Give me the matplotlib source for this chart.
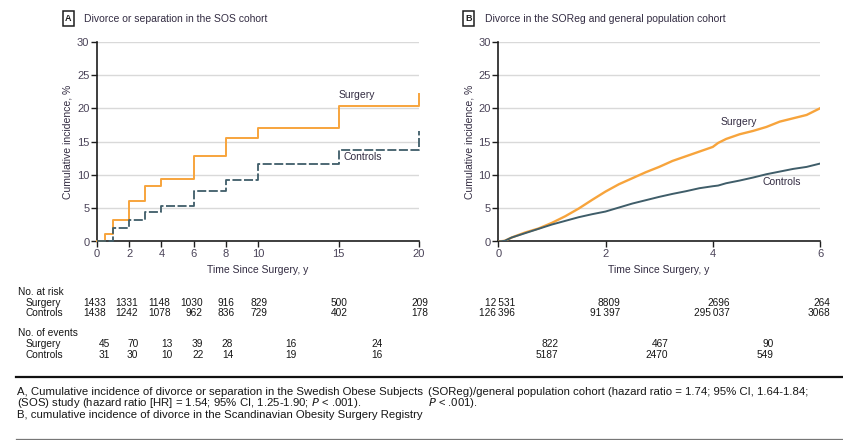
import matplotlib
matplotlib.use("Agg")
import matplotlib.pyplot as plt
from matplotlib.transforms import blended_transform_factory

plt.rcParams['font.family'] = ['Liberation Sans Narrow', 'Liberation Sans', 'DejaVu Sans']
plt.rcParams['mathtext.fontset'] = 'custom'
plt.rcParams['mathtext.it'] = 'Liberation Sans Narrow:italic'
plt.rcParams['mathtext.rm'] = 'Liberation Sans Narrow'

# ---- Panel A: SOS cohort (step curves) ----
sos_surg_t = [0, 0.5, 1, 2, 3, 4, 6, 8, 10, 15, 20]
sos_surg_ci = [0, 1.1, 3.2, 6.1, 8.3, 9.4, 12.8, 15.5, 17.1, 20.4, 22.1]
sos_ctrl_t = [0, 1, 2, 3, 4, 6, 8, 10, 15, 20]
sos_ctrl_ci = [0, 2.0, 3.3, 4.5, 5.35, 7.6, 9.2, 11.7, 13.7, 16.6]

sos_ticks = [0, 2, 4, 6, 8, 10, 15, 20]
sos_risk_surg = [1433, 1331, 1148, 1030, 916, 829, 500, 209]
sos_risk_ctrl = [1438, 1242, 1078, 962, 836, 729, 402, 178]
sos_events_surg = [45, 70, 13, 39, 28, 16, 24]
sos_events_ctrl = [31, 30, 10, 22, 14, 19, 16]

# ---- Panel B: SOReg / general population cohort ----
soreg_t = [0, 0.12, 0.25, 0.5, 0.75, 1.0, 1.25, 1.5, 1.75, 2.0, 2.25, 2.5, 2.75,
           3.0, 3.25, 3.5, 3.75, 4.0, 4.1, 4.25, 4.5, 4.75, 5.0, 5.25, 5.5, 5.75, 6.0]
soreg_surg_ci = [0, 0.1, 0.6, 1.35, 1.95, 2.8, 3.8, 4.95, 6.25, 7.5, 8.6, 9.5, 10.4,
                 11.2, 12.1, 12.8, 13.5, 14.2, 14.8, 15.4, 16.1, 16.6, 17.2, 18.0, 18.5, 19.0, 20.0]
soreg_ctrl_ci = [0, 0.1, 0.6, 1.25, 1.9, 2.55, 3.1, 3.65, 4.1, 4.5, 5.1, 5.7, 6.2,
                 6.7, 7.15, 7.55, 8.0, 8.3, 8.4, 8.75, 9.15, 9.6, 10.1, 10.5, 10.9, 11.2, 11.7]

soreg_ticks = [0, 2, 4, 6]
soreg_risk_surg = [12531, 8809, 2696, 264]
soreg_risk_ctrl = [126396, 91397, 295037, 3068]
soreg_events_surg = [822, 467, 90]
soreg_events_ctrl = [5187, 2470, 549]

ORANGE = '#F7A43C'
TEAL = '#3F5D69'
INK = '#332c42'
TICKC = '#4a4358'
AXC = '#1e1e1e'
GRID = '#d9d9d9'
TXT = '#161616'

W, H = 843, 440
fig = plt.figure(figsize=(W / 100, H / 100), dpi=100)
fig.patch.set_facecolor('white')


def fy(px):
    return 1 - px / H


def fx(px):
    return px / W


def px_axes(x0, x1, ytop, ybot):
    return fig.add_axes([x0 / W, 1 - ybot / H, (x1 - x0) / W, (ybot - ytop) / H])


def style(ax, xmax, xticks):
    ax.set_xlim(0, xmax)
    ax.set_ylim(0, 30)
    ax.set_yticks(range(0, 31, 5))
    ax.set_xticks(xticks)
    ax.yaxis.grid(True, color=GRID, lw=1.0)
    ax.set_axisbelow(True)
    for s in ('top', 'right'):
        ax.spines[s].set_visible(False)
    for s in ('left', 'bottom'):
        ax.spines[s].set_color(AXC)
        ax.spines[s].set_linewidth(1.2)
    ax.tick_params(direction='out', length=4, width=1, color=AXC,
                   labelsize=8, labelcolor=TICKC, pad=1.5)
    ax.set_ylabel('Cumulative incidence, %', fontsize=7.5, color=INK, labelpad=3)
    ax.set_xlabel('Time Since Surgery, y', fontsize=7.5, color=INK, labelpad=4)


axA = px_axes(97, 419, 41.7, 241.5)
axB = px_axes(498.3, 820, 41.7, 241.5)
style(axA, 20, sos_ticks)
style(axB, 6, soreg_ticks)

axA.plot(sos_surg_t, sos_surg_ci, drawstyle='steps-post', color=ORANGE, lw=1.4,
         clip_on=False, zorder=3)
axA.plot(sos_ctrl_t, sos_ctrl_ci, drawstyle='steps-post', color=TEAL, lw=1.3,
         ls=(0, (5, 1.4)), clip_on=False, zorder=3)
axA.text(16.15, 22.0, 'Surgery', fontsize=7.5, color=INK, ha='center', va='center')
axA.text(16.5, 12.7, 'Controls', fontsize=7.5, color=INK, ha='center', va='center')

axB.plot(soreg_t, soreg_surg_ci, color=ORANGE, lw=1.7, zorder=3)
axB.plot(soreg_t, soreg_ctrl_ci, color=TEAL, lw=1.4, zorder=3)
axB.text(4.48, 17.9, 'Surgery', fontsize=7.5, color=INK, ha='center', va='center')
axB.text(5.28, 9.0, 'Controls', fontsize=7.5, color=INK, ha='center', va='center')

# Panel headers
for xbox, xtxt, letter, title in [(68.5, 84, 'A', 'Divorce or separation in the SOS cohort'),
                                  (468.5, 485, 'B', 'Divorce in the SOReg and general population cohort')]:
    fig.text(fx(xbox), fy(18.5), letter, fontsize=6.5, fontweight='bold', color=AXC,
             ha='center', va='center',
             bbox=dict(boxstyle='square,pad=0.3', fc='white', ec=AXC, lw=1.1))
    fig.text(fx(xtxt), fy(18.5), title, fontsize=7.5, color=INK, ha='left', va='center')


def fmt(n):
    return f"{n:,}".replace(',', '\u2009') if n >= 10000 else str(n)


# Row labels of the numbers tables
rows_y = {'risk_head': 291.7, 'risk_s': 302.7, 'risk_c': 313.3,
          'ev_head': 333.3, 'ev_s': 344.3, 'ev_c': 355.0}
fig.text(fx(18), fy(rows_y['risk_head']), 'No. at risk', fontsize=7.3, color=TXT, va='center')
fig.text(fx(26), fy(rows_y['risk_s']), 'Surgery', fontsize=7.3, color=TXT, va='center')
fig.text(fx(26), fy(rows_y['risk_c']), 'Controls', fontsize=7.3, color=TXT, va='center')
fig.text(fx(18), fy(rows_y['ev_head']), 'No. of events', fontsize=7.3, color=TXT, va='center')
fig.text(fx(26), fy(rows_y['ev_s']), 'Surgery', fontsize=7.3, color=TXT, va='center')
fig.text(fx(26), fy(rows_y['ev_c']), 'Controls', fontsize=7.3, color=TXT, va='center')

# Right-edge anchor positions of each column (x in axis data units)
trA = blended_transform_factory(axA.transData, fig.transFigure)
trB = blended_transform_factory(axB.transData, fig.transFigure)
riskA_x = [t + 0.56 for t in sos_ticks]
eventsA_x = [0.81, 2.57, 4.70, 6.60, 8.45, 12.4, 17.76]
riskB_x = [0.31, 2.27, 4.32, 6.19]
eventsB_x = [1.12, 3.17, 5.13]

for tr, xs, vals, key in [(trA, riskA_x, sos_risk_surg, 'risk_s'),
                          (trA, riskA_x, sos_risk_ctrl, 'risk_c'),
                          (trA, eventsA_x, sos_events_surg, 'ev_s'),
                          (trA, eventsA_x, sos_events_ctrl, 'ev_c'),
                          (trB, riskB_x, soreg_risk_surg, 'risk_s'),
                          (trB, riskB_x, soreg_risk_ctrl, 'risk_c'),
                          (trB, eventsB_x, soreg_events_surg, 'ev_s'),
                          (trB, eventsB_x, soreg_events_ctrl, 'ev_c')]:
    for x, v in zip(xs, vals):
        fig.text(x, fy(rows_y[key]), fmt(v), transform=tr, fontsize=7.3, color=TXT,
                 ha='right', va='center')

# Caption rules and text
fig.add_artist(plt.Line2D([fx(16), 1], [fy(377), fy(377)], color='#111111', lw=1.6))
fig.add_artist(plt.Line2D([fx(16), 1], [fy(438.5), fy(438.5)], color='#777777', lw=0.9))

cap_left = ['A, Cumulative incidence of divorce or separation in the Swedish Obese Subjects',
            '(SOS) study (hazard ratio [HR] = 1.54; 95% CI, 1.25-1.90; $P$ < .001).',
            'B, cumulative incidence of divorce in the Scandinavian Obesity Surgery Registry']
cap_right = ['(SOReg)/general population cohort (hazard ratio = 1.74; 95% CI, 1.64-1.84;',
             '$P$ < .001).']
cap_y = [391.5, 403, 414.5]
for y, s in zip(cap_y, cap_left):
    fig.text(fx(17), fy(y), s, fontsize=8.2, color=TXT, va='center')
for y, s in zip(cap_y, cap_right):
    fig.text(fx(428), fy(y), s, fontsize=8.2, color=TXT, va='center')

fig.savefig('out.png', dpi=100, facecolor='white')
